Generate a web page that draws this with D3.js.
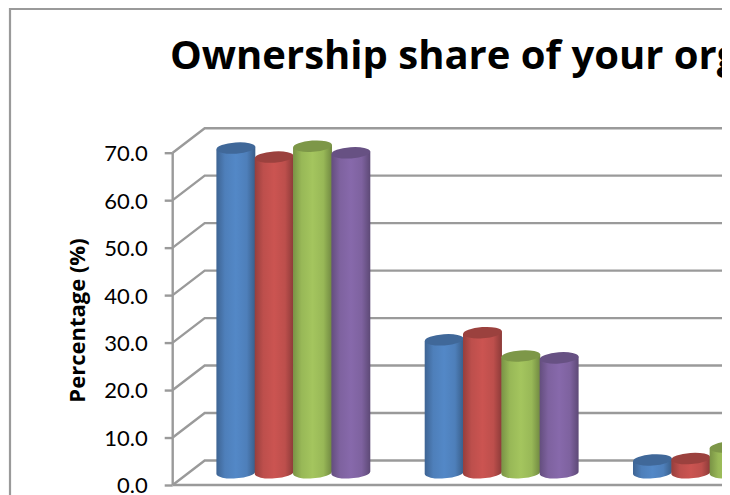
<!DOCTYPE html>
<html><head><meta charset="utf-8">
<style>html,body{margin:0;padding:0;background:#fff;overflow:hidden}svg{display:block}text{font-family:Lato,"Open Sans",sans-serif;fill:#000}</style>
<script src="https://cdn.jsdelivr.net/npm/d3@7"></script></head><body>
<script>
const titleText = "Ownership share of your organisation";
const yTitle = "Percentage (%)";
const groups = ["Group 1","Group 2","Group 3"];
const seriesNames = ["Series 1","Series 2","Series 3","Series 4"];
const series1 = [68.4,28.0,2.7];
const series2 = [66.5,29.5,3.0];
const series3 = [68.8,24.6,5.4];
const series4 = [67.4,24.2,3.5];
const seriesValues = [series1,series2,series3,series4];
const yTicks = [0,10,20,30,40,50,60,70];
const colors = ["#4f81bd","#c0504d","#9bbb59","#8064a2"];

const W=730,H=495,right=722,depthX=32,depthY=-24.5,axisX=172.7;
const y=d3.scaleLinear().domain([0,70]).range([485,152.7]);
const x0=d3.scaleBand().domain(groups).range([216.7,786.6]).paddingInner(0.264).paddingOuter(0);
const x1=d3.scaleBand().domain(seriesNames).range([0,x0.bandwidth()]);
const svg=d3.select("body").append("svg").attr("width",W).attr("height",H);
const defs=svg.append("defs");
defs.append("clipPath").attr("id","clip").append("rect").attr("x",0).attr("y",0).attr("width",right).attr("height",H);
colors.forEach((c,i)=>{
  const g=defs.append("linearGradient").attr("id","g"+i);
  const base=d3.color(c);
  [[0,base.darker(0.7)],[0.22,base.darker(0.05)],[0.5,base.brighter(0.15)],[0.78,base.darker(0.05)],[1,base.darker(0.9)]]
   .forEach(([o,col])=>g.append("stop").attr("offset",o).attr("stop-color",col));
});
const root=svg.append("g").attr("clip-path","url(#clip)");
const stroke="#9a9a9a";
root.append("path").attr("d",`M10,${H+5}V9H${right+5}`).attr("fill","none").attr("stroke",stroke).attr("stroke-width",2.2);

const grid=root.append("g").attr("fill","none").attr("stroke",stroke).attr("stroke-width",2.4);
grid.selectAll("path").data(yTicks).join("path")
  .attr("d",t=>`M${axisX},${y(t)}L${axisX+depthX},${y(t)+depthY}H${right+5}`);
grid.append("path").attr("d",`M${axisX},${y(0)}H${right+5}`);

const axis=root.append("g").attr("transform",`translate(${axisX},0)`)
  .call(d3.axisLeft(y).tickValues(yTicks).tickFormat(d3.format(".1f")).tickSize(8).tickPadding(17));
axis.selectAll("line,path").attr("stroke",stroke).attr("stroke-width",2.4);
axis.select(".domain").attr("d",`M0,${y(70)}V${y(0)}`);
axis.selectAll("text").attr("font-size",22).attr("dy","0.36em").style("font-family","Lato");

const rx=x1.bandwidth()/2+0.3, ry=5.6, tilt=-4, tiltDy=rx*Math.sin(-tilt*Math.PI/180);
const depthShift=depthY/2;
groups.forEach((gn,gi)=>{
  const grp=root.append("g");
  seriesValues.forEach((vals,si)=>{
    const cx=x0(gn)+x1(seriesNames[si])+x1.bandwidth()/2;
    const yt=y(vals[gi])+depthShift, yb=y(0)+depthShift;
    grp.append("path")
      .attr("d",`M${cx-rx},${yt+tiltDy}L${cx-rx},${yb+tiltDy}A${rx},${ry} ${tilt} 0 0 ${cx+rx},${yb-tiltDy}L${cx+rx},${yt-tiltDy}Z`)
      .attr("fill",`url(#g${si})`);
    grp.append("ellipse").attr("cx",cx).attr("cy",yt).attr("rx",rx).attr("ry",ry)
      .attr("transform",`rotate(${tilt} ${cx} ${yt})`)
      .attr("fill",d3.color(colors[si]).darker(0.6));
  });
});
root.append("text").text(titleText).attr("x",170).attr("y",69).attr("font-size",40).attr("font-weight",700).style("font-family","'Open Sans'");
root.append("text").text(yTitle).attr("transform","translate(85,320.5) rotate(-90)").attr("text-anchor","middle").attr("font-size",22).attr("font-weight",700).style("font-family","'Open Sans'");
</script></body></html>
